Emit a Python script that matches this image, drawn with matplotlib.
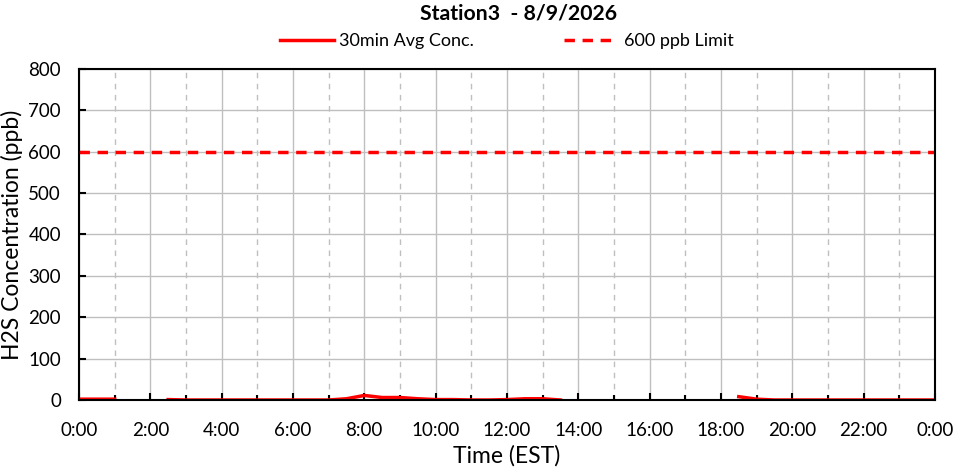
import numpy as np
import matplotlib.pyplot as plt
from matplotlib.ticker import MultipleLocator, FuncFormatter

plt.rcParams['font.family'] = ['Lato', 'DejaVu Sans']

# half-hour readings, 0:00 .. 24:00 (nan = no data)
hours = np.arange(0, 24.5, 0.5)
conc = [2, 2, 2, np.nan, np.nan, 1, 0, 0, 0, 0, 0, 0, 0, 0, 0, 3,
        11, 6, 6, 3, 1, 1, 0, 0, 1, 3, 3, 0,
        np.nan, np.nan, np.nan, np.nan, np.nan, np.nan, np.nan, np.nan, np.nan,
        8, 2, 0, 0, 0, 0, 0, 0, 0, 0, 0, 0]
limit = 600
title = 'Station3  - 8/9/2026'

fig = plt.figure(figsize=(9.54, 4.68), dpi=100)
ax = fig.add_axes([0.0828, 0.1453, 0.8972, 0.7073])

ax.plot(hours, conc, color='red', lw=2.5, label='30min Avg Conc.')
ax.axhline(limit, color='red', lw=2.5, ls=(0, (3, 2.2)), label='600 ppb Limit')

ax.set_xlim(0, 24)
ax.set_ylim(0, 800)
ax.xaxis.set_major_locator(MultipleLocator(2))
ax.xaxis.set_minor_locator(MultipleLocator(1))
ax.yaxis.set_major_locator(MultipleLocator(100))
ax.xaxis.set_major_formatter(FuncFormatter(lambda v, p: f'{int(v) % 24}:00'))

ax.grid(True, which='major', color='#bfbfbf', lw=1)
ax.grid(True, which='minor', axis='x', color='#bfbfbf', lw=1, ls=(0, (4, 4)))
ax.set_axisbelow(True)

ax.tick_params(which='both', direction='in', labelsize=13.5, color='black', width=1.5)
ax.tick_params(which='major', length=5)
ax.tick_params(which='minor', length=3.5)
ax.tick_params(axis='x', pad=16)
ax.tick_params(axis='y', pad=13)
for s in ax.spines.values():
    s.set_linewidth(1.5)

ax.set_xlabel('Time (EST)', fontsize=16.5, labelpad=4)
ax.set_ylabel('H2S Concentration (ppb)', fontsize=16.5, labelpad=4)

fig.text(0.544, 0.972, title, ha='center', va='center', fontsize=15.3, fontweight='bold')
fig.legend(loc='center', bbox_to_anchor=(0.531, 0.912), ncol=2, frameon=False,
           fontsize=13, handlelength=3.0, columnspacing=5.0, handletextpad=0.3)

fig.savefig('out.png', dpi=100)
